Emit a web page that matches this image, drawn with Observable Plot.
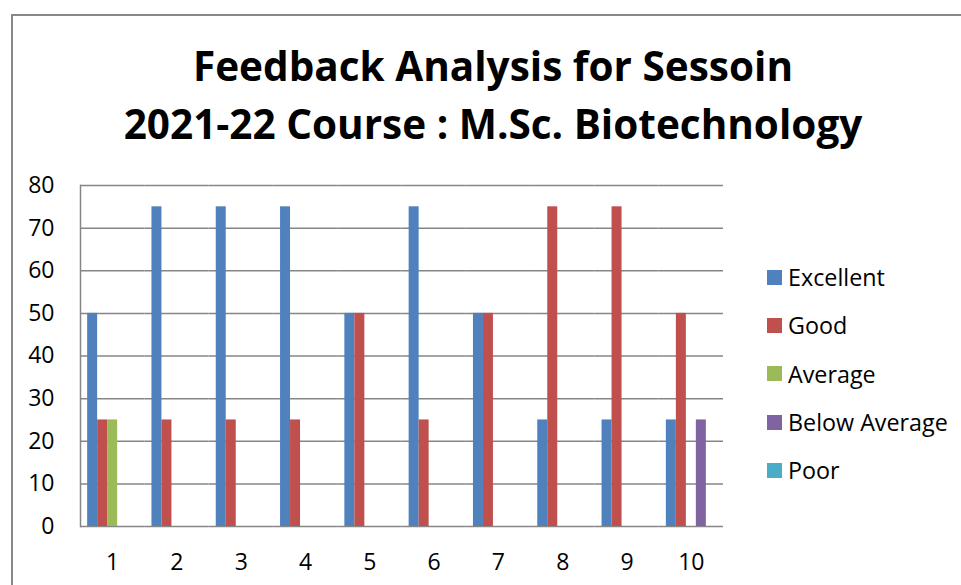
<!DOCTYPE html>
<html>
<head>
<meta charset="utf-8">
<script src="https://cdn.jsdelivr.net/npm/d3@7"></script>
<script src="https://cdn.jsdelivr.net/npm/@observablehq/plot@0.6"></script>
<style>
  html, body { margin: 0; padding: 0; background: #fff; }
  #wrap { position: relative; width: 961px; height: 585px; overflow: hidden; font-family: "Open Sans", Lato, sans-serif; }
  #box { position: absolute; left: 11px; top: 14px; width: 1000px; height: 600px; border-left: 2px solid #888; border-top: 2px solid #888; box-sizing: border-box; }
  #title { position: absolute; left: 11px; width: 964px; top: 37px; text-align: center; font-weight: 700; font-size: 40.5px; line-height: 58px; color: #000; white-space: nowrap; }
  #chart { position: absolute; left: 0; top: 0; }
  #legend { position: absolute; left: 767px; top: 253px; }
  .item { display: flex; align-items: center; height: 48.3px; font-size: 23.3px; color: #000; white-space: nowrap; }
  .sw { width: 15px; height: 15px; margin-right: 6px; flex: none; }
</style>
</head>
<body>
<div id="wrap">
  <div id="box"></div>
  <div id="chart"></div>
  <div id="title">Feedback Analysis for Sessoin<br>2021-22 Course : M.Sc. Biotechnology</div>
  <div id="legend"></div>
</div>
<script>
const sessions = [1, 2, 3, 4, 5, 6, 7, 8, 9, 10];
const series = ["Excellent", "Good", "Average", "Below Average", "Poor"];
const excellent    = [50, 75, 75, 75, 50, 75, 50, 25, 25, 25];
const good         = [25, 25, 25, 25, 50, 25, 50, 75, 75, 50];
const average      = [25, 0, 0, 0, 0, 0, 0, 0, 0, 0];
const belowAverage = [0, 0, 0, 0, 0, 0, 0, 0, 0, 25];
const poor         = [0, 0, 0, 0, 0, 0, 0, 0, 0, 0];
const colors = ["#4F81BD", "#C0504D", "#9BBB59", "#8064A2", "#4BACC6"];
const yTicks = [0, 10, 20, 30, 40, 50, 60, 70, 80];

const seriesValues = [excellent, good, average, belowAverage, poor];
const rows = sessions.flatMap((s, i) =>
  series.map((name, j) => ({session: s, series: name, value: seriesValues[j][i]}))
);

const chart = Plot.plot({
  width: 961,
  height: 585,
  marginLeft: 80,
  marginRight: 238,
  marginTop: 185,
  marginBottom: 59,
  style: {fontFamily: "'Open Sans', Lato, sans-serif", fontSize: "23px", color: "#000", background: "transparent"},
  fx: {domain: sessions, padding: 0, round: false, label: null, axis: "bottom", tickSize: 0, tickPadding: 27},
  x: {domain: series, paddingInner: 0, paddingOuter: 0.715, round: false, axis: null},
  y: {domain: [0, 80], ticks: yTicks, label: null, axis: null},
  color: {domain: series, range: colors},
  marks: [
    Plot.ruleY(yTicks, {stroke: "#868686", strokeWidth: 1.5}),
    Plot.frame({anchor: "left", facetAnchor: "left", stroke: "#868686", strokeWidth: 1.5}),
    Plot.barY(rows, {fx: "session", x: "series", y: "value", fill: "series"}),
    Plot.axisY({ticks: yTicks, tickSize: 0, tickPadding: 26, label: null, fill: "#000"})
  ]
});
document.getElementById("chart").appendChild(chart);

const legend = document.getElementById("legend");
series.forEach((name, i) => {
  const item = document.createElement("div");
  item.className = "item";
  const sw = document.createElement("span");
  sw.className = "sw";
  sw.style.background = colors[i];
  const t = document.createElement("span");
  t.textContent = name;
  item.appendChild(sw);
  item.appendChild(t);
  legend.appendChild(item);
});
</script>
</body>
</html>
